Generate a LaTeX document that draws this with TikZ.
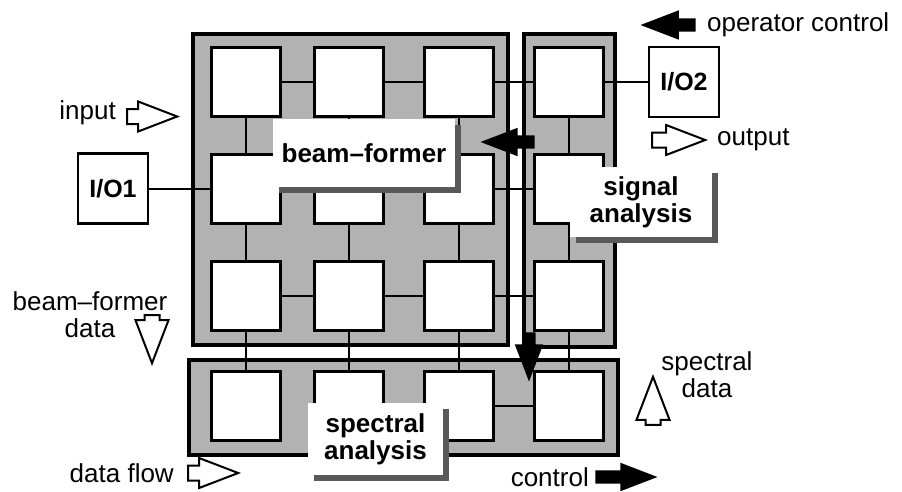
\documentclass[tikz,border=0pt]{standalone}
\usepackage{fontspec}
\setmainfont{Liberation Sans}
\usepackage{tikz}
\usetikzlibrary{shapes.arrows,shadows}
\tikzset{
  panel/.style={draw, line width=4pt, fill=black!30, inner sep=0pt},
  pe/.style={draw, line width=3pt, fill=white, minimum size=69pt, inner sep=0pt},
  iobox/.style={draw, line width=2.5pt, fill=white, minimum size=70pt, inner sep=0pt,
    font=\fontsize{25}{27}\selectfont\bfseries},
  link/.style={line width=2pt},
  tag/.style={fill=white, inner sep=0pt, align=center, font=\fontsize{26}{27}\selectfont\bfseries,
    drop shadow={shadow xshift=6pt, shadow yshift=-6pt, fill=black!65, opacity=1}},
  blockarrow/.style={single arrow, anchor=tip, inner sep=6.5pt, single arrow head extend=7.5pt,
    single arrow tip angle=42},
  solidarrow/.style={blockarrow, fill=black},
  openarrow/.style={blockarrow, draw, line width=2pt, fill=white},
  caption/.style={inner sep=0pt, align=center}
}

\begin{document}
\begin{tikzpicture}[x=1pt, y=-1pt, font=\fontsize{26}{27}\selectfont]
  \useasboundingbox (0,0) rectangle (902,491);

  % panels
  \node[panel, minimum width=315pt, minimum height=311pt] (bfpanel) at (350.5,189.5) {};
  \node[panel, minimum width=91pt, minimum height=313pt] (sapanel) at (569.5,190.5) {};
  \node[panel, minimum width=429pt, minimum height=95pt] (sppanel) at (403.5,407.5) {};

  % processing elements
  \foreach \c/\x in {1/245.5, 2/348.5, 3/459}{
    \foreach \r/\y in {1/82, 2/188.5, 3/296}{
      \node[pe] (b\r\c) at (\x,\y) {};
    }
    \node[pe] (p\c) at (\x,405.5) {};
  }
  \foreach \r/\y in {1/82, 2/188.5, 3/296}{
    \node[pe] (s\r) at (568.5,\y) {};
  }
  \node[pe] (p4) at (568.5,405.5) {};

  % links
  \foreach \r in {1,2,3}{
    \draw[link] (b\r1) -- (b\r2);
    \draw[link] (b\r2) -- (b\r3);
    \draw[link] (b\r3) -- (s\r);
  }
  \foreach \c in {1,2,3}{
    \draw[link] (b1\c) -- (b2\c);
    \draw[link] (b2\c) -- (b3\c);
    \draw[link] (b3\c) -- (p\c);
  }
  \draw[link] (s1) -- (s2);
  \draw[link] (s2) -- (s3);
  \draw[link] (s3) -- (p4);
  \draw[link] (p3) -- (p4);

  % i/o units
  \node[iobox] (io1) at (113,188.5) {I/O1};
  \node[iobox] (io2) at (684,82) {I/O2};
  \draw[link] (io1) -- (b21);
  \draw[link] (s1) -- (io2);

  % labels
  \node[tag, minimum width=182pt, minimum height=68pt] (bflabel) at (364,153) {beam–former};
  \node[tag, minimum width=142pt, minimum height=70pt] (salabel) at (641,202) {signal\\analysis};
  \node[tag, minimum width=135pt, minimum height=72pt] (splabel) at (375.5,439) {spectral\\analysis};

  % black arrows (placed by their tips)
  \node[solidarrow, minimum height=55pt, single arrow head extend=8pt, shape border rotate=180] (opctlarrow) at (640,25) {};
  \node[solidarrow, minimum height=54pt, shape border rotate=180] (bfarrow) at (480,142) {};
  \node[solidarrow, minimum height=49pt, shape border rotate=270] (sparrow) at (529,382) {};
  \node[solidarrow, minimum height=62pt] (ctlarrow) at (658,477) {};

  % open arrows
  \node[openarrow, minimum height=50pt] (inarrow) at (180,116.5) {};
  \node[openarrow, minimum height=53pt] (outarrow) at (708,140) {};
  \node[openarrow, minimum height=50pt] (flowarrow) at (241,473) {};
  \node[openarrow, minimum height=48pt, single arrow head extend=9pt, shape border rotate=270] (bfdataarrow) at (152,366) {};
  \node[openarrow, minimum height=48pt, single arrow head extend=9pt, shape border rotate=90] (spdataarrow) at (653,374) {};

  % captions
  \node[caption, anchor=east] (intext) at (116,113) {input};
  \node[caption, anchor=west] (opctltext) at (707,25) {operator control};
  \node[caption, anchor=west] (outtext) at (717,140) {output};
  \node[caption] (bfdatatext) at (90,315) {beam–former\\data};
  \node[caption, anchor=east] (flowtext) at (174,473) {data flow};
  \node[caption, anchor=east] (ctltext) at (589,477) {control};
  \node[caption] (spdatatext) at (707,375) {spectral\\data};

\end{tikzpicture}
\end{document}
